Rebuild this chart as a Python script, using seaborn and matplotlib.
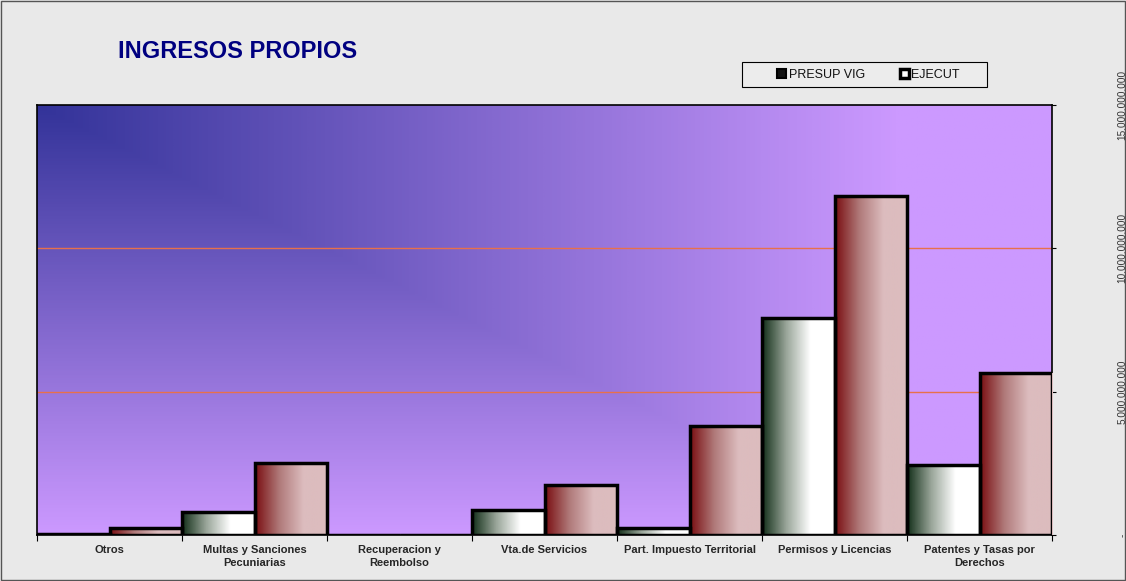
import numpy as np
import pandas as pd
import matplotlib
matplotlib.use("Agg")
import matplotlib.pyplot as plt
import seaborn as sns
from matplotlib.colors import LinearSegmentedColormap
from matplotlib.patches import Patch, Rectangle
from matplotlib.ticker import FixedLocator

# Data (in pesos)
categorias = ["Otros", "Multas y Sanciones\nPecuniarias", "Recuperacion y\nReembolso",
              "Vta.de Servicios", "Part. Impuesto Territorial", "Permisos y Licencias",
              "Patentes y Tasas por\nDerechos"]
presup_vig = [0.02e9, 0.80e9, 0.01e9, 0.87e9, 0.24e9, 7.57e9, 2.44e9]
ejecut = [0.24e9, 2.51e9, 0.01e9, 1.74e9, 3.80e9, 11.82e9, 5.65e9]
series = ["PRESUP VIG", "EJECUT"]
y_ticks = [0, 5e9, 10e9, 15e9]
y_labels = ["-", "5.000.000.000", "10.000.000.000", "15.000.000.000"]

df = pd.DataFrame({
    "categoria": categorias * 2,
    "serie": [series[0]] * len(categorias) + [series[1]] * len(categorias),
    "valor": presup_vig + ejecut,
})

sns.set_theme(style="white")
plt.rcParams["font.family"] = ["Liberation Sans", "DejaVu Sans"]

W, H = 1126, 581
fig = plt.figure(figsize=(W / 100, H / 100), dpi=100)
fig.patch.set_facecolor("#e9e9e9")
fig.patches.append(Rectangle((0.001, 0.001), 0.998, 0.997, transform=fig.transFigure,
                             fill=False, edgecolor="#555555", lw=1))

ax = fig.add_axes([37 / W, 1 - 535 / H, (1052 - 37) / W, (535 - 105) / H])

# plot-area gradient "from corner": dark blue top-left to lilac
u = np.linspace(0, 1, 400)
v = np.linspace(0, 1, 200)
U, V = np.meshgrid(u, v)
t = np.clip(np.maximum(U, 0.85 * V) / 0.85, 0, 1)
bg_cmap = LinearSegmentedColormap.from_list("bg", ["#333399", "#cc99ff"])
ax.imshow(t, cmap=bg_cmap, extent=(-0.5, 6.5, 0, 15e9), aspect="auto", zorder=0,
          origin="upper", vmin=0, vmax=1)

sns.barplot(data=df, x="categoria", y="valor", hue="serie", width=1.0, gap=0,
            palette=["#8aa08a", "#c08080"], edgecolor="black", linewidth=2.5,
            ax=ax, legend=False, zorder=3)

# horizontal gradient fill inside each bar
green = LinearSegmentedColormap.from_list("g", ["#14301a", "#9aa69a", "#ffffff", "#ffffff"])
red = LinearSegmentedColormap.from_list("r", ["#7a0f12", "#b07a7a", "#dcbcbe", "#dcbcbe"])
grad = np.linspace(0, 1, 100).reshape(1, -1)
n = len(categorias)
for i, bar in enumerate(ax.patches[:2 * n]):
    x0, w, h = bar.get_x(), bar.get_width(), bar.get_height()
    if h <= 0:
        continue
    cm = green if i < n else red
    im = ax.imshow(grad, cmap=cm, extent=(x0, x0 + w, 0, h), aspect="auto", zorder=3.5)
    im.set_clip_path(bar)
    bar.set_facecolor("none")
    bar.set_zorder(4)

ax.set_xlim(-0.5, 6.5)
ax.set_ylim(0, 15e9)
for y in [5e9, 10e9]:
    ax.axhline(y, color="#e8704a", lw=1, zorder=1)

for s in ax.spines.values():
    s.set_color("black")
    s.set_linewidth(1.2)

ax.set_xlabel("")
ax.set_ylabel("")
ax.set_xticks(range(n))
ax.set_xticklabels(categorias, fontsize=8, fontweight="bold", linespacing=1.35)
ax.xaxis.set_minor_locator(FixedLocator(np.arange(-0.5, 7, 1)))
ax.tick_params(axis="x", which="major", length=0, pad=7)
ax.tick_params(axis="x", which="minor", length=4, width=0.8, color="black", bottom=True)

ax.yaxis.tick_right()
ax.set_yticks(y_ticks)
ax.set_yticklabels(y_labels, rotation=90, fontsize=7.2, color="#333333")
ax.tick_params(axis="y", which="major", length=3, width=0.8, color="black", right=True, pad=44)
for lbl in ax.get_yticklabels():
    lbl.set_verticalalignment("center")

fig.text(118 / W, 1 - 51 / H, "INGRESOS PROPIOS", color="#000080", fontsize=17,
         fontweight="bold", va="center", ha="left")

# legend box drawn by hand, legend content centred inside it
fig.patches.append(Rectangle((742 / W, 1 - 87 / H), (987 - 742) / W, 25 / H,
                             transform=fig.transFigure, facecolor="#ececec",
                             edgecolor="black", lw=0.8, zorder=5))
handles = [Patch(facecolor="#111111", edgecolor="black", lw=1.5),
           Patch(facecolor="#ffffff", edgecolor="black", lw=2.5)]
leg = fig.legend(handles, series, loc="center", ncol=2,
                 bbox_to_anchor=((777 + 960) / 2 / W, 1 - 74.5 / H), fontsize=9,
                 frameon=False, handlelength=0.7, handleheight=0.7, handletextpad=0.2,
                 columnspacing=2.8, borderpad=0, borderaxespad=0)
leg.set_zorder(6)
for txt in leg.get_texts():
    txt.set_color("#111111")

fig.savefig("out.png", dpi=100, facecolor=fig.get_facecolor())
